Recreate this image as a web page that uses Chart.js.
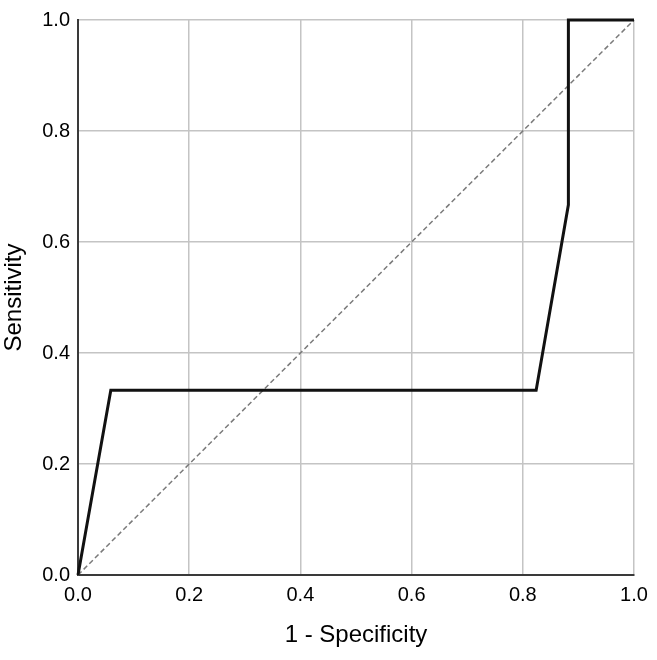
<!DOCTYPE html>
<html lang="en">
<head>
    <meta charset="UTF-8">
    <title>ROC Curve</title>
    <script src="https://cdn.jsdelivr.net/npm/chart.js@4.4.1/dist/chart.umd.min.js"></script>
    <style>
        * { margin: 0; padding: 0; box-sizing: border-box; }
        body { background: #fff; }
        .wrap { width: 657px; height: 660px; }
    </style>
</head>
<body>
    <div class="wrap">
        <canvas id="roc" width="657" height="660"></canvas>
    </div>

    <script>
        // ROC curve points (1 - specificity, sensitivity)
        const fpr = [0, 0.059, 0.824, 0.882, 0.882, 1.0];
        const tpr = [0, 0.333, 0.333, 0.667, 1.0, 1.0];

        // reference diagonal
        const refX = [0, 1];
        const refY = [0, 1];

        const tickValues = [0, 0.2, 0.4, 0.6, 0.8, 1.0];
        const xTitle = '1 - Specificity';
        const yTitle = 'Sensitivity';

        const toPoints = (xs, ys) => xs.map((x, i) => ({ x: x, y: ys[i] }));

        const fontFamily = "'Liberation Sans', Arial, sans-serif";

        const axisBase = {
            type: 'linear',
            min: 0,
            max: 1,
            afterBuildTicks: (scale) => {
                scale.ticks = tickValues.map(v => ({ value: v }));
            },
            grid: {
                color: '#c4c4c4',
                lineWidth: 1.5,
                drawTicks: false
            },
            border: {
                color: '#3a3a3a',
                width: 2
            },
            ticks: {
                color: '#000',
                font: { family: fontFamily, size: 20 },
                callback: (v) => Number(v).toFixed(1)
            },
            title: {
                display: true,
                color: '#000',
                font: { family: fontFamily, size: 24 }
            }
        };

        new Chart(document.getElementById('roc'), {
            type: 'scatter',
            data: {
                datasets: [{
                    label: 'ROC',
                    data: toPoints(fpr, tpr),
                    showLine: true,
                    borderColor: '#111',
                    borderWidth: 3,
                    pointRadius: 0,
                    tension: 0,
                    clip: 6
                }, {
                    label: 'Reference',
                    data: toPoints(refX, refY),
                    showLine: true,
                    borderColor: '#7a7a7a',
                    borderWidth: 1.5,
                    borderDash: [5, 3],
                    pointRadius: 0,
                    clip: 6
                }]
            },
            options: {
                responsive: false,
                animation: false,
                layout: {
                    padding: { top: 20, right: 23, bottom: 0, left: 0 }
                },
                plugins: {
                    legend: { display: false },
                    tooltip: { enabled: false }
                },
                scales: {
                    x: {
                        ...axisBase,
                        ticks: { ...axisBase.ticks, padding: 8, maxRotation: 0 },
                        title: { ...axisBase.title, text: xTitle, padding: { top: 8, bottom: 10 } },
                        afterFit: (scale) => { scale.height = 85; }
                    },
                    y: {
                        ...axisBase,
                        ticks: { ...axisBase.ticks, padding: 8 },
                        title: { ...axisBase.title, text: yTitle, padding: { top: 0, bottom: 4 } },
                        afterFit: (scale) => { scale.width = 78; }
                    }
                }
            }
        });
    </script>
</body>
</html>
